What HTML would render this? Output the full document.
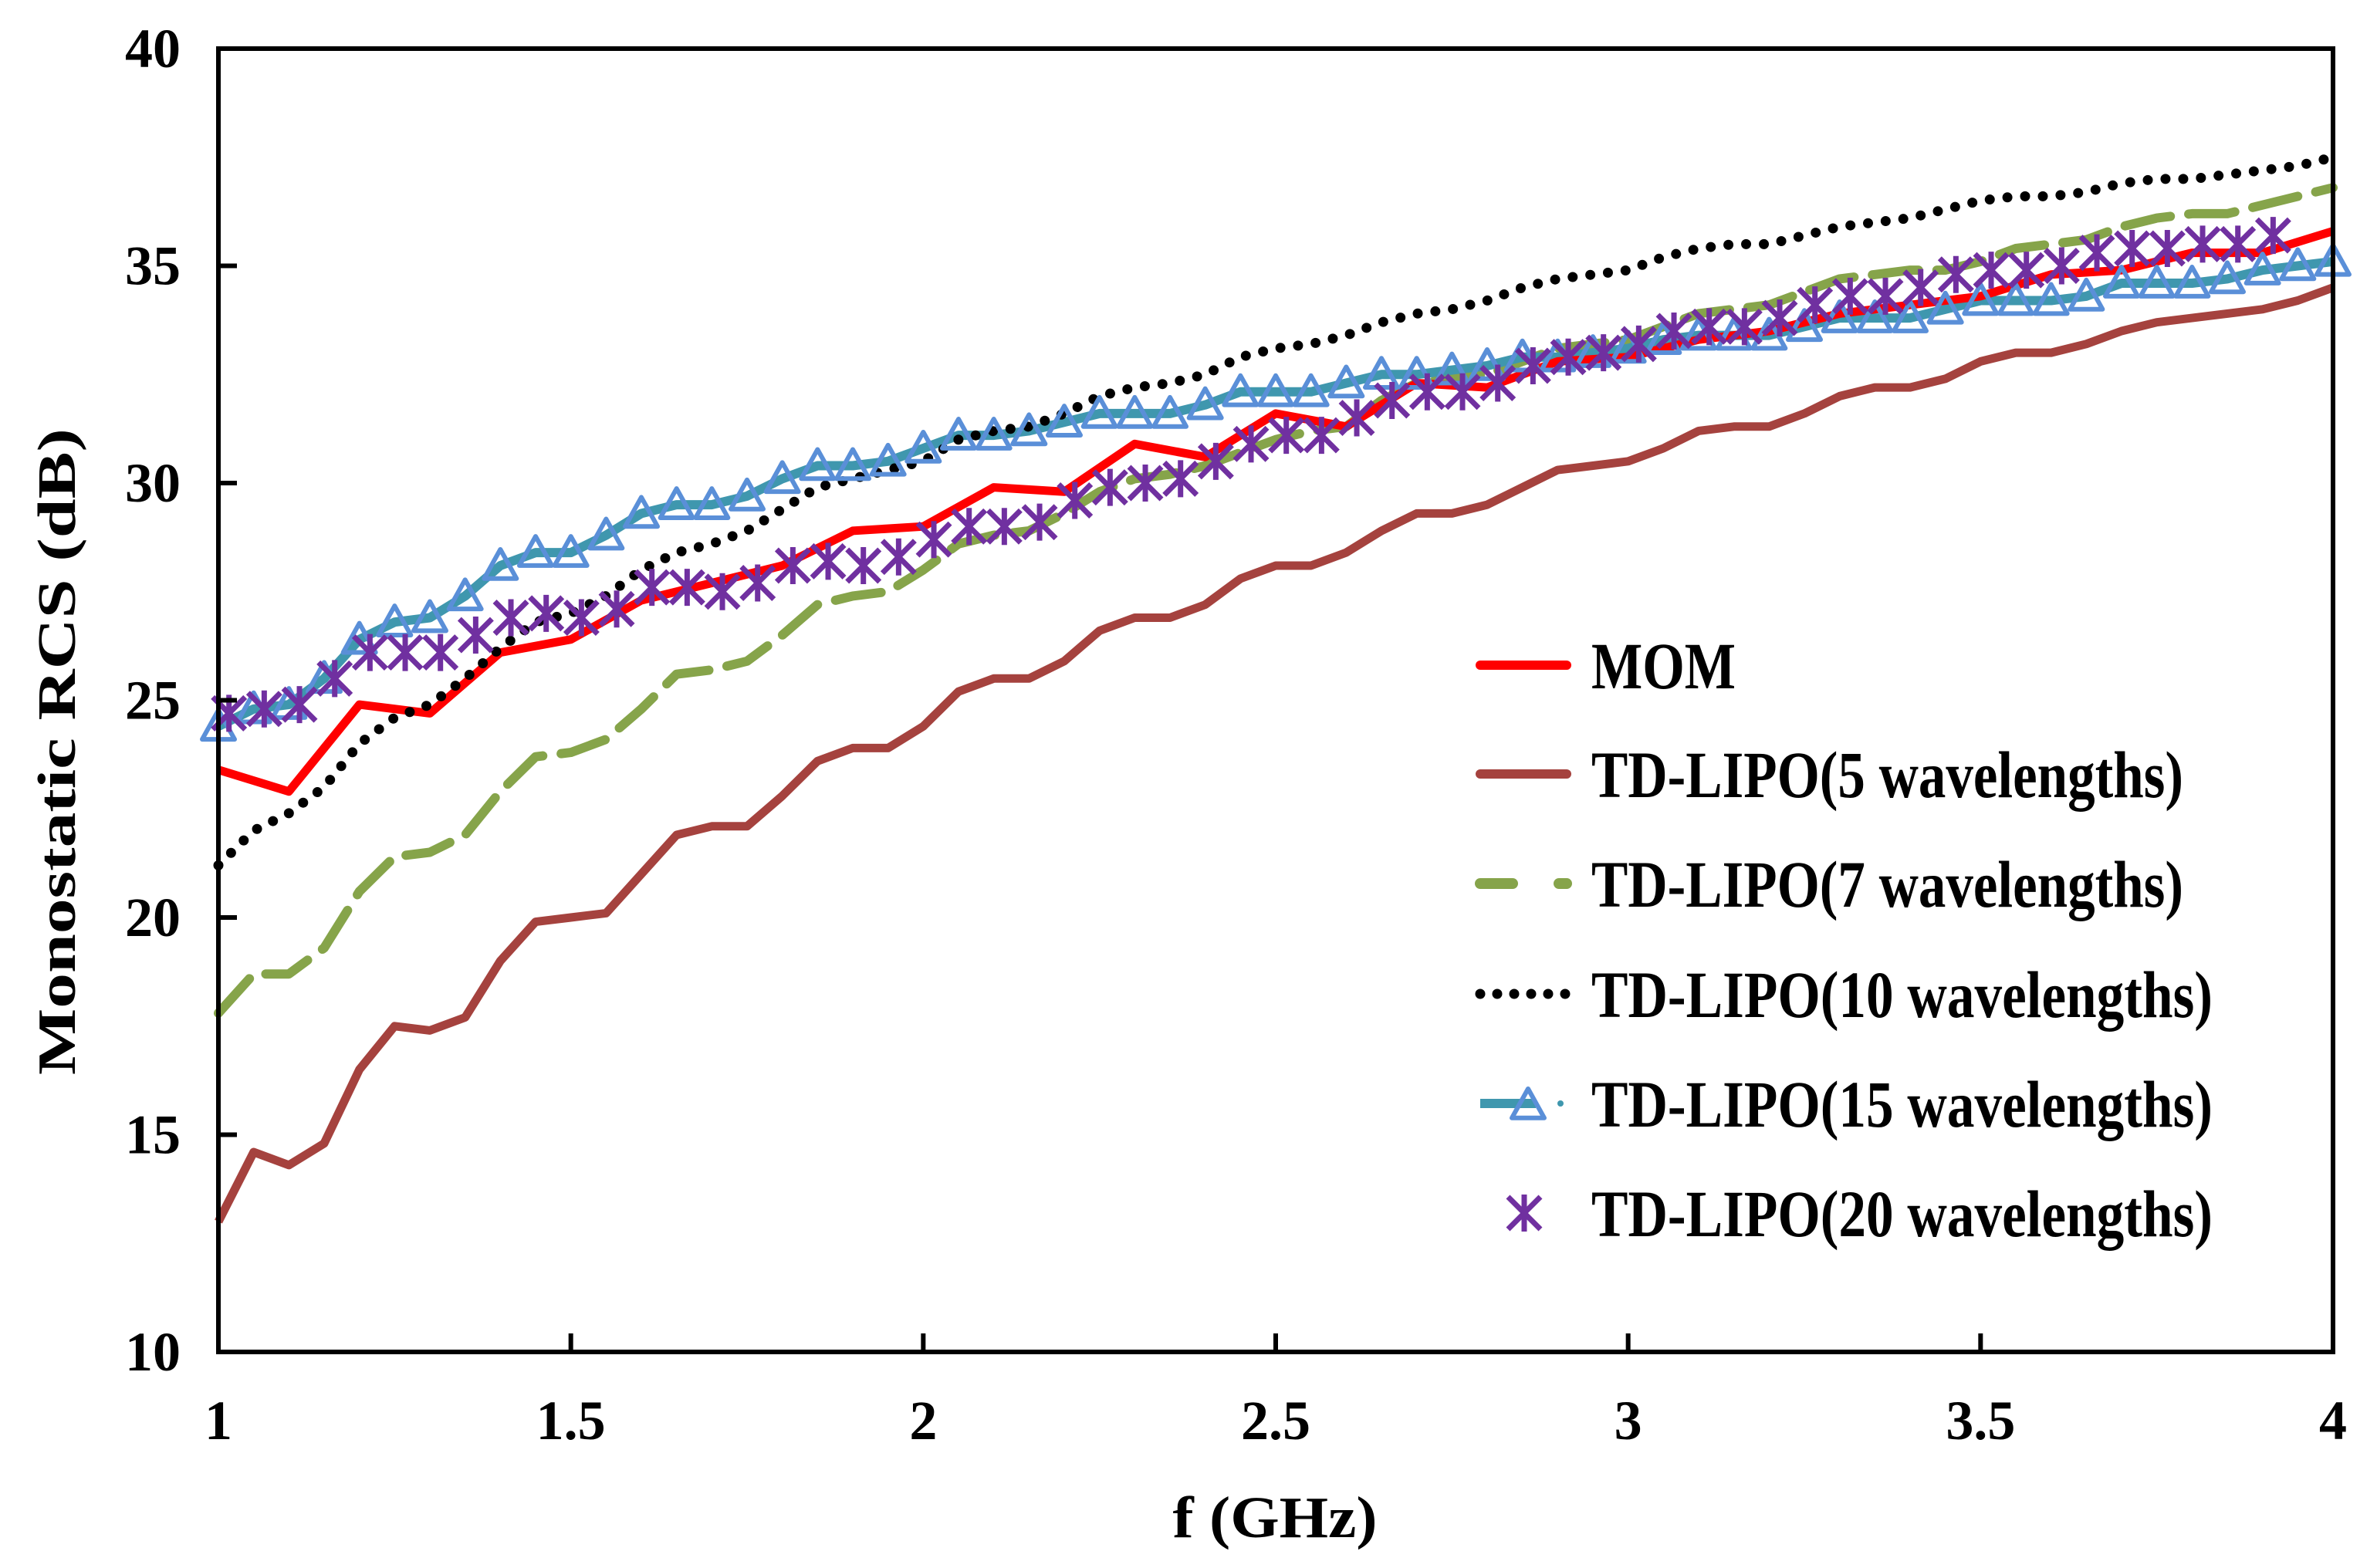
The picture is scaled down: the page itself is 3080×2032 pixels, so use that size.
<!DOCTYPE html>
<html><head><meta charset="utf-8"><style>
html,body{margin:0;padding:0;background:#fff}
svg{display:block}
text{font-family:"Liberation Serif",serif;font-weight:bold;fill:#000}
</style></head><body>
<svg id="chart" width="3080" height="2032" viewBox="0 0 3080 2032" xmlns="http://www.w3.org/2000/svg">
<g id="plot"></g>
<g id="axes"></g>
<g id="legend"></g>
</svg>
<script>
const xTicks = [1, 1.5, 2, 2.5, 3, 3.5, 4];
const xTickLabels = ["1", "1.5", "2", "2.5", "3", "3.5", "4"];
const yTicks = [10, 15, 20, 25, 30, 35, 40];
const yTickLabels = ["10", "15", "20", "25", "30", "35", "40"];
const momFreq = [1.0,1.1,1.2,1.3,1.4,1.5,1.6,1.7,1.8,1.9,2.0,2.1,2.2,2.3,2.4,2.5,2.6,2.7,2.8,2.9,3.0,3.1,3.2,3.3,3.4,3.5,3.6,3.7,3.8,3.9,4.0];
const momValues = [23.4,22.9,24.9,24.7,26.1,26.4,27.3,27.7,28.1,28.9,29.0,29.9,29.8,30.9,30.6,31.6,31.3,32.3,32.2,32.8,32.9,33.3,33.5,33.9,34.1,34.3,34.8,34.9,35.3,35.3,35.8];
const gridStart = 1.0, gridStep = 0.05;
const wl5Values = [13.0,14.6,14.3,14.8,16.5,17.5,17.4,17.7,19.0,19.9,20.0,20.1,21.0,21.9,22.1,22.1,22.8,23.6,23.9,23.9,24.4,25.2,25.5,25.5,25.9,26.6,26.9,26.9,27.2,27.8,28.1,28.1,28.4,28.9,29.3,29.3,29.5,29.9,30.3,30.4,30.5,30.8,31.2,31.3,31.3,31.6,32.0,32.2,32.2,32.4,32.8,33.0,33.0,33.2,33.5,33.7,33.8,33.9,34.0,34.2,34.5];
const wl7Values = [17.8,18.7,18.7,19.3,20.6,21.4,21.5,21.9,22.9,23.7,23.8,24.1,24.8,25.6,25.7,25.9,26.5,27.2,27.4,27.5,28.0,28.6,28.8,28.9,29.3,29.8,30.1,30.2,30.4,30.7,31.0,31.2,31.3,31.9,32.3,32.4,32.5,32.8,33.1,33.2,33.3,33.6,33.9,34.0,34.1,34.4,34.7,34.8,34.9,34.9,35.1,35.4,35.5,35.6,35.9,36.1,36.2,36.2,36.4,36.6,36.8];
const wl10Values = [21.2,22.0,22.4,23.0,24.0,24.6,24.9,25.5,26.2,26.8,27.0,27.4,28.0,28.4,28.6,28.9,29.4,29.9,30.1,30.3,30.5,31.0,31.2,31.3,31.6,32.0,32.2,32.3,32.5,32.9,33.1,33.2,33.4,33.7,33.9,34.0,34.2,34.5,34.7,34.8,34.9,35.2,35.4,35.5,35.5,35.7,35.9,36.0,36.1,36.3,36.5,36.6,36.6,36.7,36.9,37.0,37.0,37.1,37.2,37.3,37.5];
const wl15Values = [24.4,24.8,24.9,25.5,26.4,26.8,26.9,27.4,28.1,28.4,28.4,28.8,29.3,29.5,29.5,29.7,30.1,30.4,30.4,30.5,30.8,31.1,31.1,31.2,31.4,31.6,31.6,31.6,31.8,32.1,32.1,32.1,32.3,32.5,32.5,32.6,32.7,32.9,32.9,33.0,33.1,33.3,33.4,33.4,33.4,33.6,33.8,33.8,33.8,34.0,34.2,34.2,34.2,34.3,34.6,34.6,34.6,34.7,34.9,35.0,35.1];
const wl20Start = 1.015;
const wl20Values = [24.7,24.8,24.9,25.5,26.1,26.1,26.1,26.5,26.9,27.0,26.9,27.1,27.6,27.6,27.5,27.7,28.1,28.2,28.1,28.3,28.7,29.0,29.0,29.1,29.6,29.9,30.0,30.1,30.5,30.9,31.1,31.1,31.5,31.9,32.1,32.1,32.3,32.7,32.9,33.0,33.2,33.5,33.6,33.6,33.8,34.1,34.3,34.3,34.5,34.8,34.9,34.9,35.0,35.3,35.4,35.4,35.5,35.5,35.7];

const L=283,R=3023,T=63,B=1752;
const X=f=>L+(f-1)/3*(R-L);
const Y=v=>B-(v-10)/30*(B-T);
const NS="http://www.w3.org/2000/svg";
function mk(tag,attrs,parent){const e=document.createElementNS(NS,tag);for(const k in attrs)e.setAttribute(k,attrs[k]);parent.appendChild(e);return e;}
const plot=document.getElementById('plot'),axes=document.getElementById('axes'),legend=document.getElementById('legend');
const grid=vals=>vals.map((v,i)=>[gridStart+i*gridStep,v]);
function poly(pts,style,name){const p=mk('polyline',Object.assign({points:pts.map(([f,v])=>X(f).toFixed(1)+','+Y(v).toFixed(1)).join(' '),fill:'none','stroke-linejoin':'round'},style),plot);


return p;}
poly(grid(wl5Values),{stroke:'#A5423E','stroke-width':11},'series-td-lipo-5');
poly(grid(wl7Values),{stroke:'#86A44A','stroke-width':12,'stroke-dasharray':'60 24','stroke-linecap':'round'},'series-td-lipo-7');
poly(grid(wl15Values),{stroke:'#3F97AE','stroke-width':12},'series-td-lipo-15');
poly(momFreq.map((f,i)=>[f,momValues[i]]),{stroke:'#FF0000','stroke-width':11},'series-mom');
poly(grid(wl10Values),{stroke:'#000','stroke-width':13,'stroke-dasharray':'0 23','stroke-linecap':'round'},'series-td-lipo-10');
function tri(cx,cy,parent){const s=21;const t=mk('polygon',{points:`${cx},${cy-s} ${cx-s},${cy+s*0.8} ${cx+s},${cy+s*0.8}`,fill:'none',stroke:'#5A8FD8','stroke-width':6,'stroke-linejoin':'round'},parent);

}
function star(cx,cy,parent){const g=mk('g',{stroke:'#7030A0','stroke-width':7},parent);


const s=21;mk('line',{x1:cx-s,y1:cy-s,x2:cx+s,y2:cy+s},g);mk('line',{x1:cx-s,y1:cy+s,x2:cx+s,y2:cy-s},g);mk('line',{x1:cx,y1:cy-s-3,x2:cx,y2:cy+s+3},g);}
grid(wl15Values).forEach(([f,v])=>tri(X(f),Y(v),plot));
wl20Values.forEach((v,i)=>star(X(wl20Start+i*gridStep),Y(v),plot));
const fr=mk('rect',{x:L,y:T,width:R-L,height:B-T,fill:'none',stroke:'#000','stroke-width':6},axes);


xTicks.forEach((f,i)=>{mk('line',{x1:X(f),y1:B,x2:X(f),y2:B-24,stroke:'#000','stroke-width':6},axes);
const t=mk('text',{x:X(f),y:1865,'font-size':72,'text-anchor':'middle'},axes);t.textContent=xTickLabels[i];

});
yTicks.forEach((v,i)=>{mk('line',{x1:L,y1:Y(v),x2:L+24,y2:Y(v),stroke:'#000','stroke-width':6},axes);
const t=mk('text',{x:234,y:Y(v)+24,'font-size':72,'text-anchor':'end'},axes);t.textContent=yTickLabels[i];

});
const yt=mk('text',{x:0,y:0,'font-size':70,'text-anchor':'middle',transform:'translate(97,974) rotate(-90)',textLength:838,lengthAdjust:'spacingAndGlyphs'},axes);yt.textContent='Monostatic RCS (dB)';


const xt=mk('text',{x:1652,y:1992,'font-size':76,'text-anchor':'middle',textLength:265,lengthAdjust:'spacingAndGlyphs'},axes);xt.textContent='f (GHz)';


const rows=[862,1003,1145,1288,1430,1572];
const labels=['MOM','TD-LIPO(5 wavelengths)','TD-LIPO(7 wavelengths)','TD-LIPO(10 wavelengths)','TD-LIPO(15 wavelengths)','TD-LIPO(20 wavelengths)'];
const widths=[187,767,767,805,805,805];
rows.forEach((y,i)=>{const g=mk('g',{},legend);


const x1=1918,x2=2030;
if(i===0)mk('line',{x1,y1:y,x2,y2:y,stroke:'#FF0000','stroke-width':12,'stroke-linecap':'round'},g);
if(i===1)mk('line',{x1,y1:y,x2,y2:y,stroke:'#A5423E','stroke-width':12,'stroke-linecap':'round'},g);
if(i===2)mk('line',{x1,y1:y,x2,y2:y,stroke:'#86A44A','stroke-width':14,'stroke-linecap':'round','stroke-dasharray':'42 60'},g);
if(i===3)mk('line',{x1,y1:y,x2,y2:y,stroke:'#000','stroke-width':13,'stroke-linecap':'round','stroke-dasharray':'0 22'},g);
if(i===4){mk('line',{x1,y1:y,x2:1990,y2:y,stroke:'#3F97AE','stroke-width':12},g);mk('circle',{cx:2022,cy:y,r:4,fill:'#3F97AE'},g);tri(1980,y+2,g);}
if(i===5)star(1975,y,g);
const t=mk('text',{x:2062,y:y+30,'font-size':86,textLength:widths[i],lengthAdjust:'spacingAndGlyphs'},g);t.textContent=labels[i];

});
</script>
</body></html>
